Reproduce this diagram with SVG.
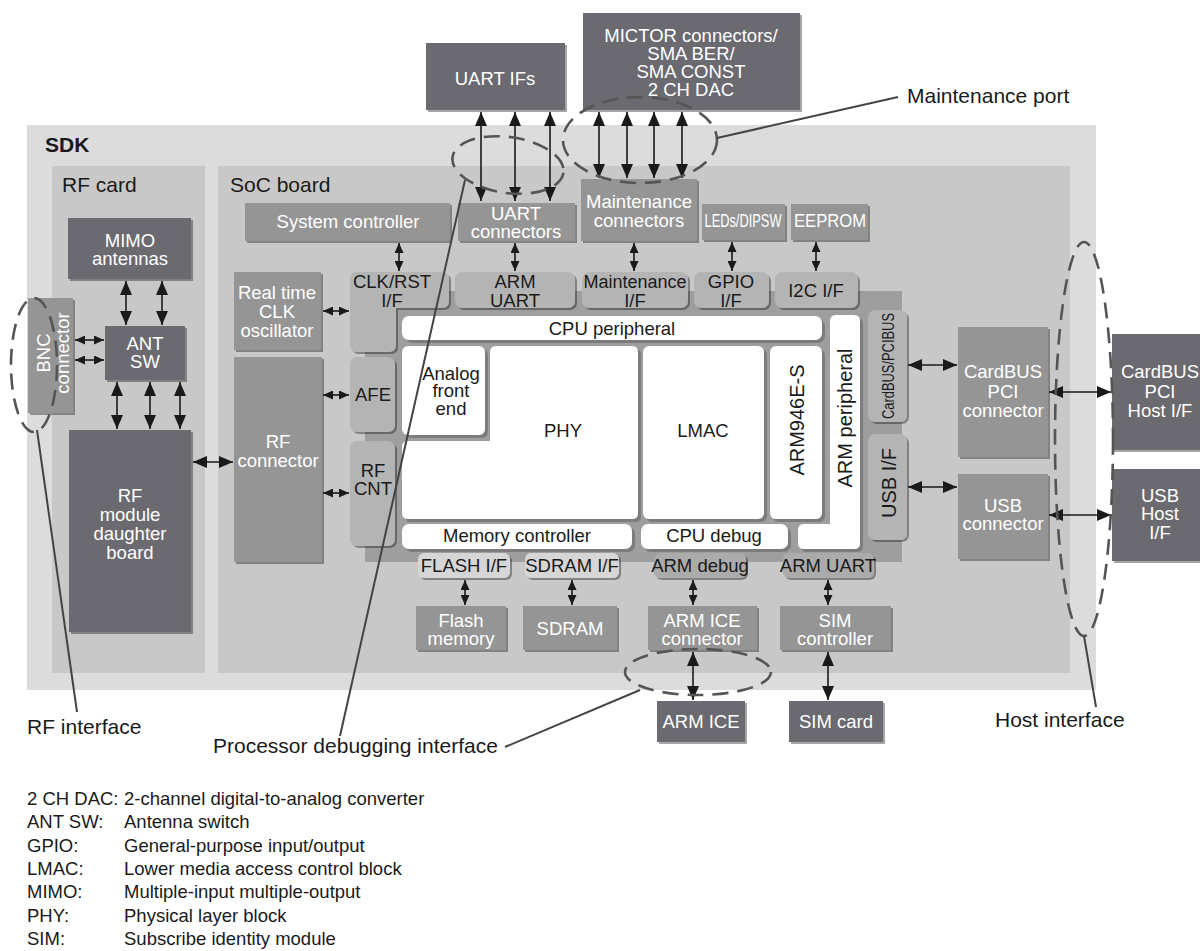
<svg xmlns="http://www.w3.org/2000/svg" width="1200" height="951" viewBox="0 0 1200 951">
<style>
text{font-family:"Liberation Sans",Arial,sans-serif;font-size:18.5px;fill:#1a1a1a}
.w{fill:#fff}
.c{text-anchor:middle}
.dk{fill:#6b6b6f;filter:url(#sh)}
.md{fill:#959595;filter:url(#sh)}
.pl{fill:#b4b4b4;filter:url(#sh)}
.pl2{fill:#d6d6d6;filter:url(#sh)}
.pl3{fill:#ababab;filter:url(#sh)}
.wh{fill:#fff;filter:url(#sh2)}
.ln{stroke:#1a1a1a;stroke-width:1.6;fill:none}
.big{marker-start:url(#ah);marker-end:url(#ah)}
.sm{marker-start:url(#as);marker-end:url(#as)}
.dash{fill:none;stroke:#555;stroke-width:2.6;stroke-dasharray:16 9}
.lead{stroke:#444;stroke-width:2;fill:none}
.lbl{font-size:21px}
</style>
<defs>
<filter id="sh" x="-10%" y="-10%" width="125%" height="125%"><feDropShadow dx="2" dy="2" stdDeviation="0.6" flood-color="#000" flood-opacity="0.35"/></filter>
<filter id="sh2" x="-10%" y="-10%" width="125%" height="125%"><feDropShadow dx="3" dy="3" stdDeviation="0.5" flood-color="#666" flood-opacity="0.6"/></filter>
<marker id="ah" viewBox="0 0 14 12" refX="14" refY="6" markerWidth="14" markerHeight="12" markerUnits="userSpaceOnUse" orient="auto-start-reverse"><path d="M0,0 L14,6 L0,12 z" fill="#1a1a1a"/></marker>
<marker id="as" viewBox="0 0 10 9" refX="10" refY="4.5" markerWidth="10" markerHeight="9" markerUnits="userSpaceOnUse" orient="auto-start-reverse"><path d="M0,0 L10,4.5 L0,9 z" fill="#1a1a1a"/></marker>
</defs>

<g id="backgrounds">
<rect x="27" y="125" width="1069" height="565" fill="#dcdcdc"/>
<text x="45" y="152" style="font-weight:bold;font-size:21px">SDK</text>
<rect x="52" y="166" width="153" height="507" fill="#c8c8c8"/>
<text x="62" y="192" style="font-size:21px">RF card</text>
<rect x="218" y="166" width="852" height="507" fill="#c8c8c8"/>
<text x="230" y="192" style="font-size:21px">SoC board</text>
</g>

<g id="chip">
<rect x="365" y="291" width="537" height="271" fill="#9e9e9e"/>
</g>

<g id="uart-ifs"><rect class="dk" x="426" y="43" width="139" height="67"/><text class="w c" x="495" y="85">UART IFs</text></g>
<g id="mictor"><rect class="dk" x="583" y="13" width="217" height="97"/>
<text class="w c" x="691" y="42">MICTOR connectors/</text><text class="w c" x="691" y="60">SMA BER/</text><text class="w c" x="691" y="78">SMA CONST</text><text class="w c" x="691" y="96">2 CH DAC</text></g>

<g id="mimo"><rect class="dk" x="68" y="218" width="123" height="61"/><text class="w c" x="130" y="247">MIMO</text><text class="w c" x="130" y="265">antennas</text></g>
<g id="antsw"><rect class="dk" x="105" y="326" width="80" height="54"/><text class="w c" x="145" y="350">ANT</text><text class="w c" x="145" y="368">SW</text></g>
<g id="bnc"><rect class="md" x="28" y="298" width="45" height="115"/><text class="w c" transform="translate(50,353) rotate(-90)">BNC</text><text class="w c" transform="translate(69,353) rotate(-90)">connector</text></g>
<g id="rfmodule"><rect class="dk" x="69" y="430" width="122" height="202"/>
<text class="w c" x="130" y="502">RF</text><text class="w c" x="130" y="521">module</text><text class="w c" x="130" y="540">daughter</text><text class="w c" x="130" y="559">board</text></g>

<g id="rtc"><rect class="md" x="234" y="272" width="87" height="78"/><text class="w c" x="277" y="299">Real time</text><text class="w c" x="277" y="318">CLK</text><text class="w c" x="277" y="337">oscillator</text></g>
<g id="rfconn"><rect class="md" x="234" y="357" width="88" height="205"/><text class="w c" x="278" y="448">RF</text><text class="w c" x="278" y="467">connector</text></g>

<g id="sysctrl"><rect class="md" x="245" y="203" width="205" height="38"/><text class="w c" x="348" y="228">System controller</text></g>
<g id="uartconn"><rect class="md" x="458" y="203" width="117" height="38"/><text class="w c" x="516" y="220">UART</text><text class="w c" x="516" y="238">connectors</text></g>
<g id="maintconn"><rect class="md" x="581" y="179" width="116" height="62"/><text class="w c" x="639" y="208">Maintenance</text><text class="w c" x="639" y="227">connectors</text></g>
<g id="leds"><rect class="md" x="702" y="204" width="83" height="36"/><text class="w c" x="743" y="227" textLength="77" lengthAdjust="spacingAndGlyphs">LEDs/DIPSW</text></g>
<g id="eeprom"><rect class="md" x="791" y="204" width="77" height="36"/><text class="w c" x="830" y="227" textLength="72" lengthAdjust="spacingAndGlyphs">EEPROM</text></g>

<g id="clkrst"><path class="pl" d="M357,272 H442 Q449,272 449,279 V301 Q449,308 442,308 H396 V345 Q396,352 389,352 H357 Q350,352 350,345 V279 Q350,272 357,272 Z"/><text class="c" x="392" y="288">CLK/RST</text><text class="c" x="392" y="307">I/F</text></g>
<g id="armuart"><rect class="pl" x="455" y="272" width="120" height="36" rx="7"/><text class="c" x="515" y="288">ARM</text><text class="c" x="515" y="307">UART</text></g>
<g id="maintif"><rect class="pl" x="582" y="272" width="106" height="36" rx="7"/><text class="c" x="635" y="288" style="font-size:18px">Maintenance</text><text class="c" x="635" y="307">I/F</text></g>
<g id="gpio"><rect class="pl" x="694" y="272" width="75" height="36" rx="7"/><text class="c" x="731" y="288">GPIO</text><text class="c" x="731" y="307">I/F</text></g>
<g id="i2c"><rect class="pl" x="775" y="272" width="83" height="36" rx="7"/><text class="c" x="816" y="297">I2C I/F</text></g>
<g id="afe"><rect class="pl" x="350" y="357" width="45" height="75" rx="7"/><text class="c" x="373" y="401">AFE</text></g>
<g id="rfcnt"><rect class="pl" x="350" y="441" width="45" height="105" rx="7"/><text class="c" x="373" y="477">RF</text><text class="c" x="373" y="495">CNT</text></g>

<g id="cpuperiph"><rect class="wh" x="402" y="316" width="420" height="24" rx="7"/><text class="c" x="612" y="335">CPU peripheral</text></g>
<g id="phy"><path class="wh" d="M496,346 H632 Q638,346 638,352 V513 Q638,519 632,519 H408 Q402,519 402,513 V447 Q402,441 408,441 H490 V352 Q490,346 496,346 Z"/><text class="c" x="563" y="437">PHY</text></g>
<g id="afeblock"><rect class="wh" x="402" y="346" width="83" height="89" rx="6"/><text class="c" x="451" y="380">Analog</text><text class="c" x="451" y="397">front</text><text class="c" x="451" y="415">end</text></g>
<g id="lmac"><rect class="wh" x="643" y="346" width="121" height="173" rx="6"/><text class="c" x="703" y="437">LMAC</text></g>
<g id="arm946"><rect class="wh" x="770" y="346" width="52" height="173" rx="6"/><text class="c" transform="translate(804,420) rotate(-90)" style="font-size:20px">ARM946E-S</text></g>
<g id="armperiph"><path class="wh" d="M836,315 H854 Q860,315 860,321 V543 Q860,549 854,549 H804 Q798,549 798,543 V530 Q798,524 804,524 H830 V321 Q830,315 836,315 Z"/><text class="c" transform="translate(852,418) rotate(-90)" style="font-size:20px">ARM peripheral</text></g>
<g id="memctrl"><rect class="wh" x="402" y="524" width="230" height="25" rx="7"/><text class="c" x="517" y="542">Memory controller</text></g>
<g id="cpudebug"><rect class="wh" x="641" y="524" width="147" height="25" rx="7"/><text class="c" x="714" y="542">CPU debug</text></g>
<g id="cardbusif"><rect class="pl" x="868" y="310" width="39" height="112" rx="7"/><text class="c" transform="translate(894,366) rotate(-90)" style="font-size:16px" textLength="106" lengthAdjust="spacingAndGlyphs">CardBUS/PCIBUS</text></g>
<g id="usbif"><rect class="pl" x="868" y="434" width="39" height="106" rx="7"/><text class="c" transform="translate(896,483) rotate(-90)" style="font-size:20px">USB I/F</text></g>

<g id="flashif"><rect class="pl2" x="418" y="553" width="92" height="25" rx="6"/><text class="c" x="464" y="572">FLASH I/F</text></g>
<g id="sdramif"><rect class="pl2" x="525" y="553" width="94" height="25" rx="6"/><text class="c" x="572" y="572">SDRAM I/F</text></g>
<g id="armdebug"><rect class="pl3" x="654" y="553" width="92" height="25" rx="6"/><text class="c" x="700" y="572">ARM debug</text></g>
<g id="armuart2"><rect class="pl3" x="783" y="553" width="91" height="25" rx="6"/><text class="c" x="828" y="572">ARM UART</text></g>

<g id="flash"><rect class="md" x="416" y="606" width="90" height="44"/><text class="w c" x="461" y="627">Flash</text><text class="w c" x="461" y="645">memory</text></g>
<g id="sdram"><rect class="md" x="523" y="606" width="94" height="44"/><text class="w c" x="570" y="635">SDRAM</text></g>
<g id="armiceconn"><rect class="md" x="648" y="606" width="109" height="44"/><text class="w c" x="702" y="627">ARM ICE</text><text class="w c" x="702" y="645">connector</text></g>
<g id="simctrl"><rect class="md" x="780" y="606" width="111" height="44"/><text class="w c" x="835" y="627">SIM</text><text class="w c" x="835" y="645">controller</text></g>
<g id="armice"><rect class="dk" x="657" y="701" width="88" height="41"/><text class="w c" x="701" y="728">ARM ICE</text></g>
<g id="simcard"><rect class="dk" x="789" y="701" width="94" height="41"/><text class="w c" x="836" y="728">SIM card</text></g>

<g id="cardbusconn"><rect class="md" x="958" y="327" width="90" height="130"/><text class="w c" x="1003" y="378">CardBUS</text><text class="w c" x="1003" y="398">PCI</text><text class="w c" x="1003" y="417">connector</text></g>
<g id="usbconn"><rect class="md" x="958" y="474" width="90" height="85"/><text class="w c" x="1003" y="512">USB</text><text class="w c" x="1003" y="530">connector</text></g>
<g id="cardbushost"><rect class="dk" x="1112" y="334" width="92" height="116"/><text class="w c" x="1160" y="378">CardBUS</text><text class="w c" x="1160" y="398">PCI</text><text class="w c" x="1160" y="417">Host I/F</text></g>
<g id="usbhost"><rect class="dk" x="1112" y="469" width="92" height="92"/><text class="w c" x="1160" y="502">USB</text><text class="w c" x="1160" y="520">Host</text><text class="w c" x="1160" y="539">I/F</text></g>

<g id="connectors">
<line class="ln big" x1="481" y1="112" x2="481" y2="201"/>
<line class="ln big" x1="515" y1="112" x2="515" y2="201"/>
<line class="ln big" x1="550" y1="112" x2="550" y2="201"/>
<line class="ln big" x1="599" y1="112" x2="599" y2="178"/>
<line class="ln big" x1="627" y1="112" x2="627" y2="178"/>
<line class="ln big" x1="654" y1="112" x2="654" y2="178"/>
<line class="ln big" x1="682" y1="112" x2="682" y2="178"/>
<line class="ln big" x1="126" y1="281" x2="126" y2="325"/>
<line class="ln big" x1="162" y1="281" x2="162" y2="325"/>
<line class="ln big" x1="117" y1="382" x2="117" y2="429"/>
<line class="ln big" x1="150" y1="382" x2="150" y2="429"/>
<line class="ln big" x1="180" y1="382" x2="180" y2="429"/>
<line class="ln big" x1="193" y1="462" x2="233" y2="462"/>
<line class="ln big" x1="908" y1="365" x2="957" y2="365"/>
<line class="ln big" x1="908" y1="487" x2="957" y2="487"/>
<line class="ln big" x1="1049" y1="392" x2="1111" y2="392"/>
<line class="ln big" x1="1049" y1="515" x2="1111" y2="515"/>
<line class="ln big" x1="693" y1="652" x2="693" y2="700"/>
<line class="ln big" x1="828" y1="652" x2="828" y2="700"/>
<line class="ln sm" x1="75" y1="340" x2="104" y2="340"/>
<line class="ln sm" x1="75" y1="360" x2="104" y2="360"/>
<line class="ln sm" x1="323" y1="311" x2="349" y2="311"/>
<line class="ln sm" x1="323" y1="395" x2="349" y2="395"/>
<line class="ln sm" x1="323" y1="493" x2="349" y2="493"/>
<line class="ln sm" x1="399" y1="243" x2="399" y2="271"/>
<line class="ln sm" x1="515" y1="243" x2="515" y2="271"/>
<line class="ln sm" x1="634" y1="243" x2="634" y2="271"/>
<line class="ln sm" x1="732" y1="242" x2="732" y2="271"/>
<line class="ln sm" x1="816" y1="242" x2="816" y2="271"/>
<line class="ln sm" x1="465" y1="580" x2="465" y2="605"/>
<line class="ln sm" x1="572" y1="580" x2="572" y2="605"/>
<line class="ln sm" x1="693" y1="580" x2="693" y2="605"/>
<line class="ln sm" x1="828" y1="580" x2="828" y2="605"/>
</g>

<g id="interfaces">
<ellipse class="dash" cx="508" cy="165" rx="56" ry="28" transform="rotate(8 508 165)"/>
<ellipse class="dash" cx="640" cy="140" rx="77" ry="43"/>
<ellipse class="dash" cx="698" cy="672" rx="73" ry="23"/>
<ellipse class="dash" cx="34" cy="365" rx="23" ry="67"/>
<ellipse class="dash" cx="1084" cy="439" rx="29" ry="197"/>
<line class="lead" x1="717" y1="138" x2="898" y2="97"/>
<line class="lead" x1="37" y1="430" x2="77" y2="712"/>
<line class="lead" x1="465" y1="180" x2="340" y2="736"/>
<line class="lead" x1="640" y1="690" x2="505" y2="747"/>
<line class="lead" x1="1084" y1="636" x2="1096" y2="707"/>
<text class="lbl" x="907" y="103">Maintenance port</text>
<text class="lbl" x="27" y="734">RF interface</text>
<text class="lbl" x="213" y="753">Processor debugging interface</text>
<text class="lbl" x="995" y="727">Host interface</text>
</g>

<g id="legend">
<text x="27" y="805">2 CH DAC:</text><text x="124" y="805">2-channel digital-to-analog converter</text>
<text x="27" y="828">ANT SW:</text><text x="124" y="828">Antenna switch</text>
<text x="27" y="852">GPIO:</text><text x="124" y="852">General-purpose input/output</text>
<text x="27" y="875">LMAC:</text><text x="124" y="875">Lower media access control block</text>
<text x="27" y="898">MIMO:</text><text x="124" y="898">Multiple-input multiple-output</text>
<text x="27" y="922">PHY:</text><text x="124" y="922">Physical layer block</text>
<text x="27" y="945">SIM:</text><text x="124" y="945">Subscribe identity module</text>
</g>
</svg>
